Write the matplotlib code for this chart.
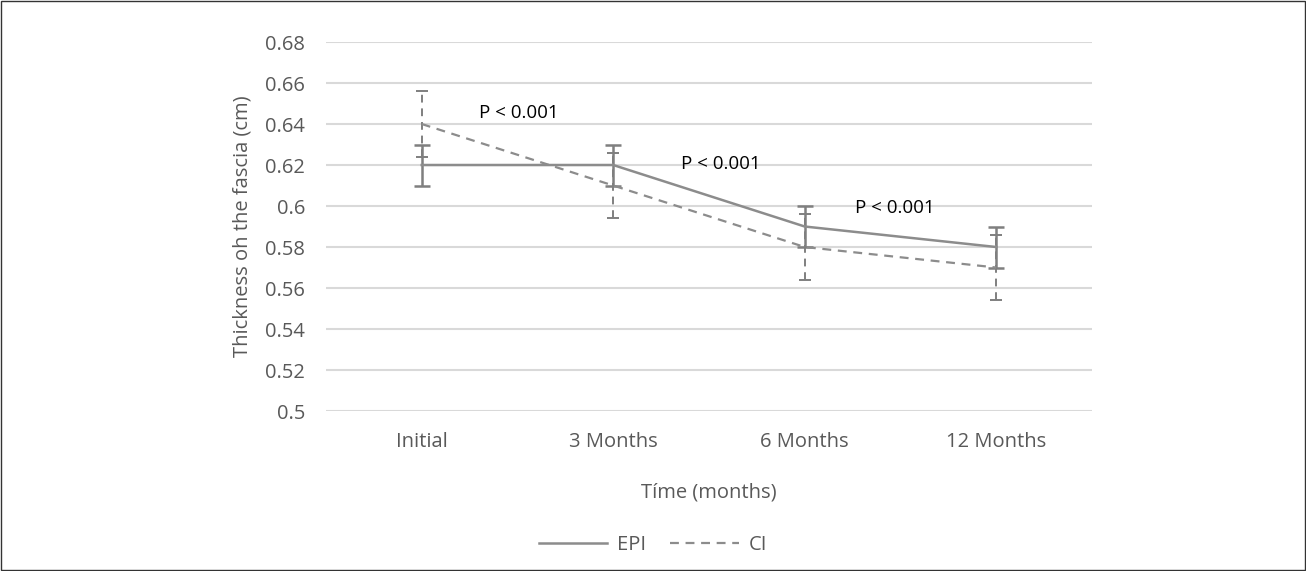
import numpy as np
import matplotlib.pyplot as plt
from matplotlib.lines import Line2D

plt.rcParams['font.family'] = ['Open Sans', 'DejaVu Sans']

# Data
months = ['Initial', '3 Months', '6 Months', '12 Months']
epi_mean = [0.62, 0.62, 0.59, 0.58]
epi_err = [0.01, 0.01, 0.01, 0.01]
ci_mean = [0.64, 0.61, 0.58, 0.57]
ci_err = [0.016, 0.016, 0.016, 0.016]
p_labels = ['P < 0.001', 'P < 0.001', 'P < 0.001']
p_x = [0.505, 1.563, 2.471]
p_y = [0.6454, 0.6207, 0.599]

gray = '#8c8c8c'
bar_gray = '#7f7f7f'
text_gray = '#595959'
dash = (0, (4, 3))

fig = plt.figure(figsize=(13.06, 5.71), dpi=100)
ax = fig.add_axes([0.2496, 0.2802, 0.5865, 0.6462])

x = np.arange(len(months))

ax.errorbar(x, epi_mean, yerr=epi_err, color=gray, ecolor=bar_gray,
            lw=1.8, elinewidth=1.8, capsize=6, capthick=1.8, zorder=3)
ci = ax.errorbar(x, ci_mean, yerr=ci_err, color=gray, ecolor=bar_gray,
                 lw=1.6, elinewidth=1.4, capsize=4, capthick=1.4,
                 linestyle=dash, zorder=3)
for col in ci[2]:
    col.set_linestyle(dash)

for lab, px, py in zip(p_labels, p_x, p_y):
    ax.text(px, py, lab, ha='center', va='center', fontsize=13.5, color='black')

ax.set_xlim(-0.5, len(months) - 0.5)
ax.set_ylim(0.5, 0.68)
ax.set_yticks(np.arange(0.5, 0.681, 0.02))
ax.set_yticklabels(['0.5', '0.52', '0.54', '0.56', '0.58', '0.6', '0.62', '0.64', '0.66', '0.68'])
ax.set_xticks(x)
ax.set_xticklabels(months)
ax.tick_params(axis='both', length=0, labelsize=14.5, colors=text_gray)
ax.tick_params(axis='x', pad=15)
ax.tick_params(axis='y', pad=15)
ax.yaxis.grid(True, color='#d9d9d9', lw=1.5)
ax.set_axisbelow(True)
for s in ax.spines.values():
    s.set_visible(False)

ax.set_xlabel('Tíme (months)', fontsize=14.5, color=text_gray, labelpad=22)
ax.set_ylabel('Thickness oh the fascia (cm)', fontsize=14.5, color=text_gray, labelpad=9)

handles = [Line2D([], [], color=gray, lw=1.8),
           Line2D([], [], color=gray, lw=1.6, linestyle=dash)]
leg = fig.legend(handles, ['EPI', 'CI'], loc='center', bbox_to_anchor=(0.5, 0.045),
                 ncol=2, frameon=False, fontsize=14.5, handlelength=3.4,
                 columnspacing=1.2, handletextpad=0.5)
for t in leg.get_texts():
    t.set_color(text_gray)

fig.patches.append(plt.Rectangle((0.0005, 0.001), 0.999, 0.998, transform=fig.transFigure,
                                 fill=False, edgecolor='#333333', lw=1))

fig.savefig('out.png', dpi=100)
